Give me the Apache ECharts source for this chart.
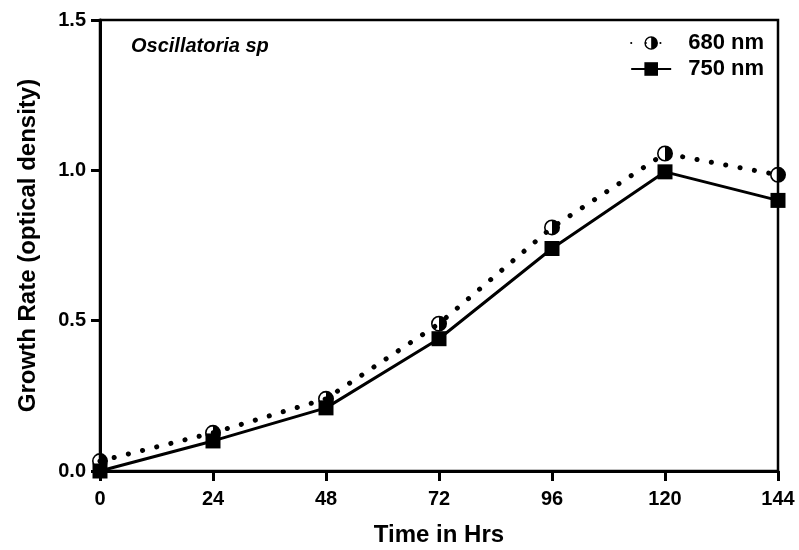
<!DOCTYPE html>
<html>
<head>
<meta charset="utf-8">
<script src="https://cdn.jsdelivr.net/npm/echarts@6/dist/echarts.min.js"></script>
<style>html,body{margin:0;padding:0;background:#fff;}#c{width:799px;height:550px;}</style>
</head>
<body>
<div id="c"></div>
<script>
const hours = [0, 24, 48, 72, 96, 120, 144];
const nm680 = [0.033, 0.127, 0.24, 0.49, 0.81, 1.056, 0.985];
const nm750 = [0.0, 0.10, 0.21, 0.44, 0.74, 0.995, 0.90];
const yTicks = [0, 0.5, 1.0, 1.5];

const halfCircle = 'path://M10 0A10 10 0 1 1 10 20A10 10 0 1 1 10 0Z M10 2A8 8 0 1 0 10 18A8 8 0 1 0 10 2Z M10 0A10 10 0 0 1 10 20Z';
const font = 'Liberation Sans, Arial, sans-serif';

const chart = echarts.init(document.getElementById('c'));
chart.setOption({
  backgroundColor: '#fff',
  animation: false,
  grid: {left: 100, right: 21, top: 20, bottom: 79, show: true, borderColor: '#000', borderWidth: 2.5,
    backgroundColor: 'transparent', outerBoundsMode: 'none', containLabel: false},
  title: {text: 'Oscillatoria sp', left: 126, top: 31,
    textStyle: {fontFamily: font, fontSize: 20, fontWeight: 'bold', fontStyle: 'italic', color: '#000'}},
  legend: {
    top: 27, right: 30, orient: 'vertical', itemGap: 4, itemWidth: 40, itemHeight: 17,
    textStyle: {fontFamily: font, fontSize: 22, fontWeight: 'bold', color: '#000', padding: [0, 0, 0, 12]},
    data: ['680 nm', '750 nm']
  },
  xAxis: {
    type: 'value', min: 0, max: 144, interval: 24,
    name: 'Time in Hrs', nameLocation: 'middle', nameGap: 52,
    nameTextStyle: {fontFamily: font, fontSize: 24, fontWeight: 'bold', color: '#000'},
    axisLine: {lineStyle: {color: '#000', width: 3}},
    axisTick: {length: 10, lineStyle: {color: '#000', width: 3}},
    axisLabel: {fontFamily: font, fontSize: 20, fontWeight: 'bold', color: '#000', margin: 18,
      formatter: v => hours.includes(v) ? String(v) : ''},
    splitLine: {show: false}
  },
  yAxis: {
    type: 'value', min: 0, max: 1.5, interval: 0.5,
    name: 'Growth Rate (optical density)', nameLocation: 'middle', nameGap: 60,
    nameTextStyle: {fontFamily: font, fontSize: 24, fontWeight: 'bold', color: '#000'},
    axisLine: {show: true, lineStyle: {color: '#000', width: 3}},
    axisTick: {show: true, length: 9, lineStyle: {color: '#000', width: 3}},
    axisLabel: {fontFamily: font, fontSize: 20, fontWeight: 'bold', color: '#000', margin: 14,
      formatter: v => yTicks.includes(v) ? v.toFixed(1) : ''},
    splitLine: {show: false}
  },
  series: [
    {
      name: '680 nm', type: 'line',
      data: hours.map((h, i) => [h, nm680[i]]),
      symbol: halfCircle, symbolSize: 16,
      itemStyle: {color: '#000'},
      lineStyle: {color: '#000', width: 5, type: [0.1, 14.5], cap: 'round'},
      z: 3
    },
    {
      name: '750 nm', type: 'line',
      data: hours.map((h, i) => [h, nm750[i]]),
      symbol: 'rect', symbolSize: 15,
      itemStyle: {color: '#000'},
      lineStyle: {color: '#000', width: 3},
      z: 4
    }
  ]
});
</script>
</body>
</html>
